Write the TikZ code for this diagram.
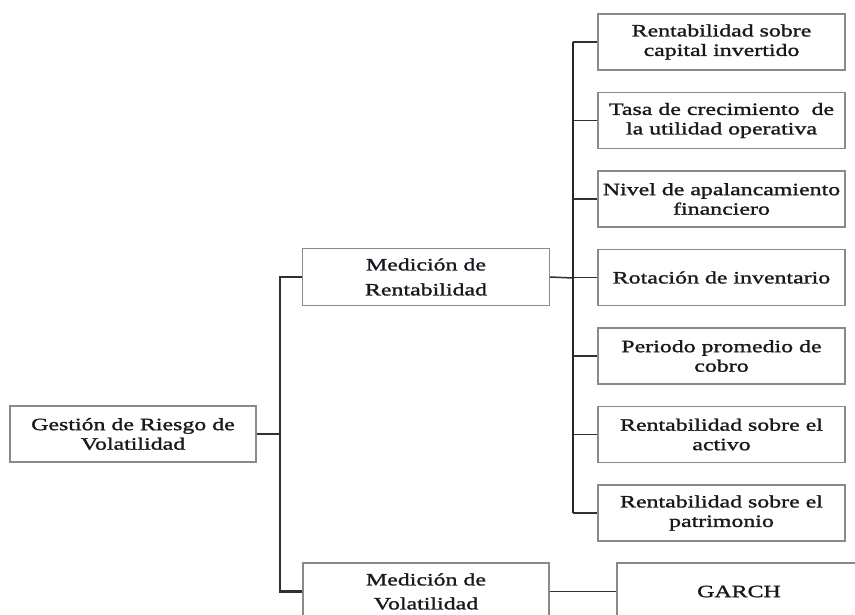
\documentclass[tikz,border=0pt]{standalone}
\usepackage{fontspec}
\setmainfont[FakeStretch=1.38,FakeBold=1.4]{Liberation Serif}
\definecolor{boxline}{HTML}{8A8A8A}
\definecolor{conn}{HTML}{303030}
\definecolor{txt}{HTML}{18181F}
\begin{document}
\begin{tikzpicture}[x=1pt,y=1pt,
  box/.style={draw=boxline,line width=1.3pt,rectangle,inner sep=0pt,align=center,
    text=txt,font=\fontsize{17.3}{19.5}\selectfont},
  rbox/.style={box,minimum width=247,minimum height=56},
  link/.style={draw=conn,line width=1.5pt},
  trunk/.style={draw=conn,line width=2.2pt},
  rtrunk/.style={draw=black!85,line width=2.8pt}]
\useasboundingbox (0,0) rectangle (855,-614);
\clip (0,0) rectangle (855,-614);
\fill[white] (0,0) rectangle (855,-614);

\node[box,minimum width=246,minimum height=56] (root) at (133,-434) {Gestión de Riesgo de\\Volatilidad};
\node[box,minimum width=247,minimum height=57,font=\fontsize{17.3}{25}\selectfont] (m1) at (426,-277) {Medición de\\Rentabilidad};
\node[box,minimum width=246,minimum height=57,font=\fontsize{17.3}{24}\selectfont] (m2) at (426,-591.5) {Medición de\\Volatilidad};

\node[rbox] (r1) at (721.5,-42) {Rentabilidad sobre\\capital invertido};
\node[rbox] (r2) at (721.5,-120.5) {Tasa de crecimiento\ \ de\\la utilidad operativa};
\node[rbox] (r3) at (721.5,-199) {Nivel de apalancamiento\\financiero};
\node[rbox] (r4) at (721.5,-277.5) {Rotación de inventario};
\node[rbox] (r5) at (721.5,-356) {Periodo promedio de\\cobro};
\node[rbox] (r6) at (721.5,-434.5) {Rentabilidad sobre el\\activo};
\node[rbox] (r7) at (721.5,-513) {Rentabilidad sobre el\\patrimonio};
\node[box,minimum width=244,minimum height=57] (g) at (739,-591.5) {GARCH};

\coordinate (j1) at (280,-434);
\coordinate (j2) at (573,-278);

\draw[link] (root.east) -- (j1);
\draw[trunk] (m1.west) -| (j1);
\draw[trunk] (m2.west) -| (j1);
\draw[link] (m1.east) -- (j2);
\foreach \r in {r1,r2,r3,r4,r5,r6,r7}{\draw[link] (\r.west) -- (\r.west -| j2);}
\draw[rtrunk] (r1.west -| j2) -- (r7.west -| j2);
\draw[link] (m2.east) -- (g.west);
\end{tikzpicture}
\end{document}
